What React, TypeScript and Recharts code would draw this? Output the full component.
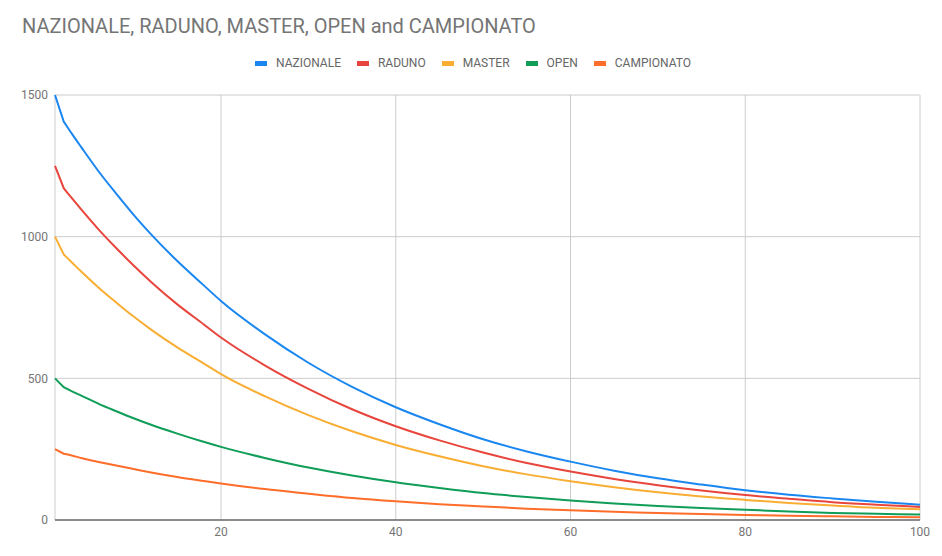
import { LineChart, Line, XAxis, YAxis, CartesianGrid } from 'recharts';

// x positions (the chart starts at 1)
const xs = [1, 2, 3, 4, 6, 8, 10, 12, 15, 18, 20, 25, 30, 35, 40, 45, 50, 55, 60, 65, 70, 75, 80, 85, 90, 95, 100];

const nazionale = [1500, 1406, 1360, 1316, 1230, 1152, 1077, 1008, 914, 829, 773, 656, 555, 470, 398, 338, 285, 242, 206, 174, 147, 125, 105, 89, 76, 64, 54];
const raduno = [1250, 1171, 1133, 1096, 1025, 960, 898, 840, 761, 691, 644, 546, 463, 391, 331, 281, 238, 201, 171, 145, 123, 104, 88, 75, 63, 54, 46];
const master = [1000, 937, 907, 877, 820, 768, 718, 672, 609, 553, 515, 437, 370, 313, 265, 225, 190, 161, 137, 116, 98, 83, 71, 60, 51, 43, 38];
const open = [500, 469, 453, 439, 410, 384, 359, 336, 305, 276, 258, 219, 185, 157, 133, 113, 95, 81, 69, 58, 49, 42, 36, 30, 25, 22, 19];
const campionato = [250, 234, 227, 219, 205, 192, 180, 168, 152, 138, 129, 109, 93, 78, 66, 56, 48, 40, 34, 29, 25, 21, 18, 15, 13, 11, 10];

const xTicks = [20, 40, 60, 80, 100];
const yTicks = [0, 500, 1000, 1500];

const SERIES = [
  { key: 'NAZIONALE', values: nazionale, color: '#1a87f0' },
  { key: 'RADUNO', values: raduno, color: '#e8453c' },
  { key: 'MASTER', values: master, color: '#f9ae33' },
  { key: 'OPEN', values: open, color: '#0f9d58' },
  { key: 'CAMPIONATO', values: campionato, color: '#ff6d2b' },
];

const data = xs.map((x, i) => {
  const row: Record<string, number> = { x };
  SERIES.forEach(s => { row[s.key] = s.values[i]; });
  return row;
});

// straight first segment (the kink at x=2), smooth hermite curve after it
const kinkCurve = (context: any) => {
  let pts: number[][] = [];
  const slope = (a: number[], b: number[]) => (b[1] - a[1]) / (b[0] - a[0]);
  return {
    areaStart() {},
    areaEnd() {},
    lineStart() { pts = []; },
    point(x: number, y: number) { pts.push([+x, +y]); },
    lineEnd() {
      const n = pts.length;
      if (!n) return;
      context.moveTo(pts[0][0], pts[0][1]);
      if (n === 1) return;
      context.lineTo(pts[1][0], pts[1][1]);
      if (n === 2) return;
      const m: number[] = [];
      for (let i = 1; i < n; i++) {
        if (i === 1) m[i] = slope(pts[1], pts[2]);
        else if (i === n - 1) m[i] = slope(pts[n - 2], pts[n - 1]);
        else {
          const h0 = pts[i][0] - pts[i - 1][0];
          const h1 = pts[i + 1][0] - pts[i][0];
          m[i] = (slope(pts[i - 1], pts[i]) * h1 + slope(pts[i], pts[i + 1]) * h0) / (h0 + h1);
        }
      }
      for (let i = 1; i < n - 1; i++) {
        const [x0, y0] = pts[i];
        const [x1, y1] = pts[i + 1];
        const h = (x1 - x0) / 3;
        context.bezierCurveTo(x0 + h, y0 + m[i] * h, x1 - h, y1 - m[i + 1] * h, x1, y1);
      }
    },
  };
};

const FONT = 'Roboto, "Noto Sans", sans-serif';
const TICK = { fill: '#757575', fontSize: 12, fontFamily: FONT };

const App = () => (
  <div style={{ position: 'relative', width: 942, height: 556, background: '#fff', fontFamily: FONT }}>
    <style>{'body{margin:0}'}</style>
    {/* title */}
    <div style={{ position: 'absolute', left: 22, top: 14, fontSize: 20, color: '#757575', whiteSpace: 'nowrap' }}>
      NAZIONALE, RADUNO, MASTER, OPEN and CAMPIONATO
    </div>
    {/* legend */}
    <div style={{ position: 'absolute', left: 2, width: 942, top: 55, display: 'flex', justifyContent: 'center', gap: 16, fontSize: 12, color: '#666' }}>
      {SERIES.map(s => (
        <div key={s.key} style={{ display: 'flex', alignItems: 'center', height: 16 }}>
          <span style={{ display: 'inline-block', width: 12, height: 5, background: s.color, marginRight: 9 }} />
          <span>{s.key}</span>
        </div>
      ))}
    </div>
    <LineChart width={942} height={556} data={data} margin={{ top: 95, right: 22, left: 0, bottom: 8 }}>
      <CartesianGrid stroke="#cccccc" />
      <XAxis
        dataKey="x"
        type="number"
        domain={[1, 100]}
        ticks={xTicks}
        tick={TICK}
        tickLine={false}
        axisLine={{ stroke: '#333333' }}
        tickMargin={1}
        height={28}
      />
      <YAxis
        type="number"
        domain={[0, 1500]}
        ticks={yTicks}
        tick={TICK}
        tickLine={false}
        axisLine={false}
        tickMargin={1}
        width={55}
      />
      {SERIES.map(s => (
        <Line
          key={s.key}
          dataKey={s.key}
          type={kinkCurve as any}
          stroke={s.color}
          strokeWidth={2}
          dot={false}
          activeDot={false}
          isAnimationActive={false}
        />
      ))}
    </LineChart>
  </div>
);

export default App;
